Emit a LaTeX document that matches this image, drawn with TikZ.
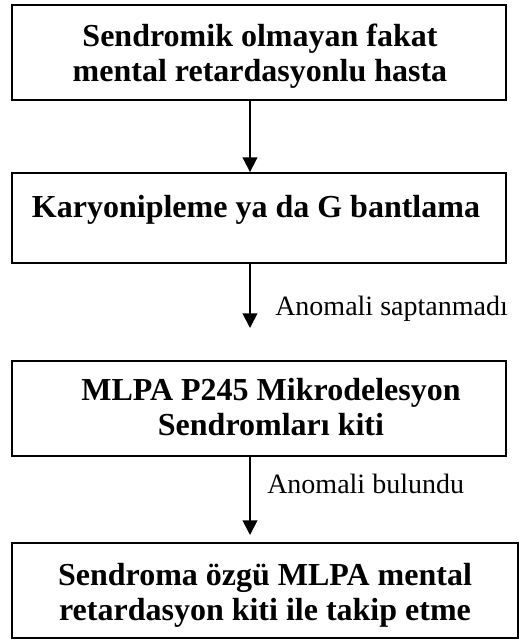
\documentclass[tikz,border=0pt]{standalone}
\usepackage{fontspec}
\setmainfont{Liberation Serif}
\usetikzlibrary{arrows.meta}
\begin{document}
\begin{tikzpicture}[x=0.75pt,y=-0.75pt,
  box/.style={draw,line width=1.4pt,minimum width=370.5pt,minimum height=71.25pt,inner sep=0pt},
  boxtext/.style={font=\fontsize{24}{26.25}\selectfont\bfseries,align=center,anchor=base,inner sep=0pt},
  lbl/.style={font=\fontsize{21}{24}\selectfont,anchor=base west,inner sep=0pt},
  arr/.style={line width=1.4pt,-{Triangle[width=11pt,length=11pt]}}]
\useasboundingbox (0,0) rectangle (520,642);
% boxes
\node[box] (b1) at (259,52.5) {};
\node[box,minimum height=67.5pt] (b2) at (259,218) {};
\node[box] (b3) at (259,408.5) {};
\node[box,minimum width=379.5pt] (b4) at (265,590.5) {};
% texts (base anchor = last line's baseline)
\node[boxtext] (t1) at (260,82) {Sendromik olmayan fakat\\mental retardasyonlu hasta};
\node[boxtext] (t2) at (256,217) {Karyonipleme ya da G bantlama};
\node[boxtext] (t3) at (271,435) {MLPA P245 Mikrodelesyon\\Sendromları kiti};
\node[boxtext] (t4) at (265,620) {Sendroma özgü MLPA mental\\retardasyon kiti ile takip etme};
% arrow ends
\coordinate (e1) at (250,328);
\coordinate (e2) at (250,535);
% arrows
\draw[arr] (b1.south -| e1) -- (b2.north -| e1);
\draw[arr] (b2.south -| e1) -- (e1);
\draw[arr] (b3.south -| e2) -- (e2);
% labels
\node[lbl] (l1) at (275,315) {Anomali saptanmadı};
\node[lbl] (l2) at (267,493) {Anomali bulundu};
\end{tikzpicture}
\end{document}
